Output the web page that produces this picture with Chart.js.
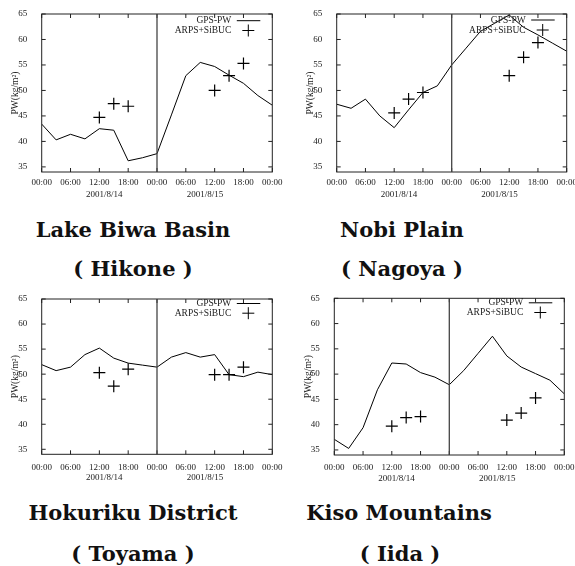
<!DOCTYPE html>
<html>
<head>
<meta charset="utf-8">
<script src="https://cdn.jsdelivr.net/npm/chart.js@4"></script>
<style>
  body { margin: 0; background: #fff; width: 575px; height: 566px; position: relative; overflow: hidden; }
  canvas { position: absolute; }
  .ttl { position: absolute; width: 280px; text-align: center; font: bold 21px 'DejaVu Serif', serif;
         color: #111; line-height: 24px; white-space: nowrap; }
</style>
</head>
<body>
<canvas id="c1" width="287" height="200" style="left:0;top:0"></canvas>
<canvas id="c2" width="288" height="200" style="left:287px;top:0"></canvas>
<canvas id="c3" width="287" height="200" style="left:0;top:285px"></canvas>
<canvas id="c4" width="288" height="200" style="left:287px;top:285px"></canvas>

<div class="ttl" style="left:-7px;top:218px">Lake Biwa Basin</div>
<div class="ttl" style="left:-7px;top:257px">( Hikone )</div>
<div class="ttl" style="left:262px;top:218px">Nobi Plain</div>
<div class="ttl" style="left:262px;top:257px">( Nagoya )</div>
<div class="ttl" style="left:-7px;top:501px">Hokuriku District</div>
<div class="ttl" style="left:-7px;top:542px">( Toyama )</div>
<div class="ttl" style="left:259px;top:501px">Kiso Mountains</div>
<div class="ttl" style="left:260px;top:542px">( Iida )</div>

<script>
// hours since 2001/8/14 00:00
const gpsHours = [0, 3, 6, 9, 12, 15, 18, 21, 24, 27, 30, 33, 36, 39, 42, 45, 48];
const arpsHours = [12, 15, 18, 36, 39, 42];

const xTicks = [0, 6, 12, 18, 24, 30, 36, 42, 48];
const xLabels = ['00:00', '06:00', '12:00', '18:00', '00:00', '06:00', '12:00', '18:00', '00:00'];
const yTicks = [35, 40, 45, 50, 55, 60, 65];
const dayHours = [13, 34];
const dayLabels = ['2001/8/14', '2001/8/15'];

// GPS-PW (kg/m2)
const hikoneGps = [43.4, 40.3, 41.4, 40.5, 42.5, 42.2, 36.2, 36.8, 37.6, 45.2, 52.9, 55.5, 54.7, 53.0, 51.4, 49.0, 47.1];
const nagoyaGps = [47.3, 46.5, 48.3, 45.0, 42.7, 46.2, 49.6, 50.9, 55.0, 58.3, 61.6, 63.2, 64.8, 62.4, 60.9, 59.3, 57.7];
const toyamaGps = [51.9, 50.7, 51.4, 53.9, 55.2, 53.2, 52.2, 51.8, 51.4, 53.4, 54.3, 53.4, 53.9, 49.9, 49.5, 50.4, 49.9];
const iidaGps   = [37.1, 35.3, 39.4, 46.9, 52.2, 52.0, 50.3, 49.4, 47.9, 50.7, 54.1, 57.5, 53.6, 51.4, 50.1, 48.8, 46.1];

// ARPS+SiBUC
const hikoneArps = [44.7, 47.4, 46.9, 50.0, 52.9, 55.3];
const nagoyaArps = [45.6, 48.3, 49.6, 52.9, 56.5, 59.4];
const toyamaArps = [50.3, 47.6, 51.0, 49.9, 49.9, 51.4];
const iidaArps   = [39.7, 41.4, 41.6, 40.9, 42.3, 45.3];

const serif = '"Liberation Serif", "Times New Roman", serif';

// frame, inward ticks, day divider, labels and key, gnuplot style
const gnuplotFrame = {
  id: 'gnuplotFrame',
  afterDatasetsDraw(chart, args, o) {
    const { ctx, chartArea: a, scales: { x, y } } = chart;
    ctx.save();
    ctx.strokeStyle = '#222';
    ctx.lineWidth = 1;
    ctx.strokeRect(a.left, a.top, a.width, a.height);

    ctx.beginPath();
    xTicks.forEach(h => {
      const px = x.getPixelForValue(h);
      ctx.moveTo(px, a.bottom); ctx.lineTo(px, a.bottom - 4);
      ctx.moveTo(px, a.top); ctx.lineTo(px, a.top + 4);
    });
    yTicks.forEach(v => {
      const py = y.getPixelForValue(v);
      ctx.moveTo(a.left, py); ctx.lineTo(a.left + 4, py);
      ctx.moveTo(a.right, py); ctx.lineTo(a.right - 4, py);
    });
    ctx.stroke();

    const mid = x.getPixelForValue(24);
    ctx.strokeStyle = '#444';
    ctx.lineWidth = 1.3;
    ctx.beginPath();
    ctx.moveTo(mid, a.top); ctx.lineTo(mid, a.bottom);
    ctx.stroke();

    ctx.fillStyle = '#222';
    ctx.font = '9px ' + serif;
    ctx.textAlign = 'center';
    ctx.textBaseline = 'middle';
    xTicks.forEach((h, i) => ctx.fillText(xLabels[i], x.getPixelForValue(h), o.labelY));
    dayHours.forEach((h, i) => ctx.fillText(dayLabels[i], x.getPixelForValue(h), o.dateY));

    // y title
    ctx.save();
    ctx.translate(o.titleX, (a.top + a.bottom) / 2);
    ctx.rotate(-Math.PI / 2);
    ctx.font = '9.5px ' + serif;
    ctx.fillText('PW(kg/m²)', 0, 0);
    ctx.restore();

    // key, top right
    ctx.font = '9.5px ' + serif;
    ctx.textAlign = 'right';
    const r1 = a.top + o.key[0], r2 = a.top + o.key[1];
    ctx.fillText('GPS-PW', a.right - 41, r1);
    ctx.fillText('ARPS+SiBUC', a.right - 41, r2);
    ctx.strokeStyle = '#000';
    ctx.lineWidth = 1;
    ctx.beginPath();
    ctx.moveTo(a.right - 35.5, r1); ctx.lineTo(a.right - 12, r1);
    const cx = a.right - 24;
    ctx.moveTo(cx - 6, r2); ctx.lineTo(cx + 6, r2);
    ctx.moveTo(cx, r2 - 6); ctx.lineTo(cx, r2 + 6);
    ctx.stroke();
    ctx.restore();
  }
};

function drawPanel(id, gps, arps, box) {
  new Chart(document.getElementById(id), {
    type: 'scatter',
    data: {
      datasets: [
        {
          label: 'GPS-PW',
          data: gpsHours.map((h, i) => ({ x: h, y: gps[i] })),
          showLine: true,
          borderColor: '#000',
          borderWidth: 1,
          pointRadius: 0,
          tension: 0
        },
        {
          label: 'ARPS+SiBUC',
          data: arpsHours.map((h, i) => ({ x: h, y: arps[i] })),
          showLine: false,
          pointStyle: 'cross',
          pointRadius: 6,
          borderColor: '#000',
          borderWidth: 1.2
        }
      ]
    },
    options: {
      responsive: false,
      animation: false,
      layout: { padding: { left: 0, top: box.top, right: box.right, bottom: box.bottom } },
      plugins: {
        legend: { display: false },
        tooltip: { enabled: false },
        gnuplotFrame: box
      },
      scales: {
        x: { type: 'linear', min: 0, max: 48, display: false },
        y: {
          min: 34, max: 65,
          grid: { display: false },
          border: { display: false },
          ticks: { font: { family: serif, size: 9 }, color: '#222', padding: 6.5 },
          afterBuildTicks: s => { s.ticks = yTicks.map(v => ({ value: v })); },
          afterFit: s => { s.width = box.left; }
        }
      }
    },
    plugins: [gnuplotFrame]
  });
}

drawPanel('c1', hikoneGps, hikoneArps, { left: 41.7, top: 14, right: 14.7, bottom: 28, labelY: 182.7, dateY: 194.3, titleX: 15, key: [6.7, 16.5] });
drawPanel('c2', nagoyaGps, nagoyaArps, { left: 49.7, top: 14, right: 8.3, bottom: 28, labelY: 182.7, dateY: 194.3, titleX: 23, key: [6, 16] });
drawPanel('c3', toyamaGps, toyamaArps, { left: 41.7, top: 14, right: 14.7, bottom: 30.7, labelY: 182.7, dateY: 192.7, titleX: 15, key: [4.5, 14.2] });
drawPanel('c4', iidaGps, iidaArps, { left: 47.3, top: 13.3, right: 10.7, bottom: 30, labelY: 182.7, dateY: 193.3, titleX: 21.3, key: [4.5, 14.2] });
</script>
</body>
</html>
